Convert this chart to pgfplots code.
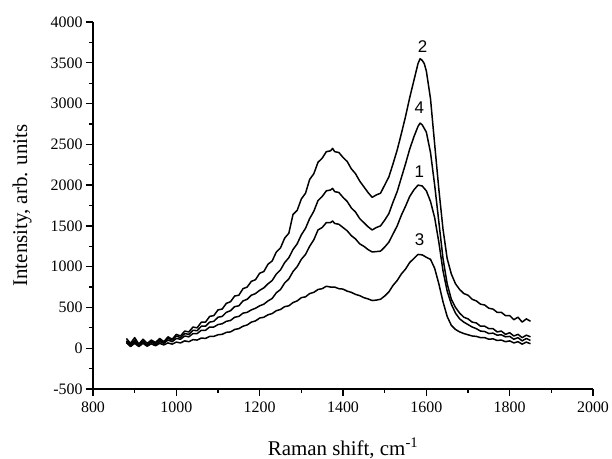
\documentclass[border=0pt]{standalone}
\usepackage{pgfplots}
\pgfplotsset{compat=1.18}
\usepackage{fontspec}
\setmainfont{Liberation Serif}
\newfontfamily\sansf{Liberation Sans}
\begin{document}
\begin{tikzpicture}
\useasboundingbox (0,0) rectangle (612bp,459bp);
\begin{axis}[
  at={(93bp,70bp)}, anchor=south west,
  width=500bp, height=367bp, scale only axis,
  xmin=800, xmax=2000, ymin=-500, ymax=4000,
  axis lines*=left,
  axis line style={line width=1.3pt},
  xtick={800,1000,...,2000},
  ytick={-500,0,...,4000},
  minor x tick num=1, minor y tick num=1,
  tick align=outside,
  major tick length=7bp, minor tick length=4bp,
  every tick/.style={line width=1.3pt, black},
  xticklabel={\fontsize{16}{16}\selectfont\pgfmathprintnumber[assume math mode=true,1000 sep={}]{\tick}},
  yticklabel={\fontsize{16}{16}\selectfont\pgfmathprintnumber[assume math mode=true,1000 sep={}]{\tick}},
  xticklabel style={yshift=-2bp},
  xlabel={Raman shift, cm\textsuperscript{-1}},
  ylabel={Intensity, arb. units},
  label style={font=\fontsize{21}{21}\selectfont},
  xlabel style={at={(axis description cs:0.5,0)}, anchor=base, yshift=-66bp},
  ylabel style={at={(axis description cs:0,0.5)}, anchor=center, yshift=71bp},
  clip=false,
]
% curve 2
\addplot[black, line width=1.5pt, line join=round] coordinates {
(880,120)(890,60)(900,130)(910,50)(920,110)(930,60)(940,100)(950,70)(960,120)(970,80)
(980,140)(990,110)(1000,170)(1010,150)(1020,210)(1030,200)(1040,260)(1050,250)(1060,320)(1070,320)
(1080,390)(1090,400)(1100,470)(1110,480)(1120,550)(1130,570)(1140,640)(1150,650)(1160,730)(1170,750)
(1180,820)(1190,840)(1200,920)(1210,940)(1220,1030)(1230,1070)(1240,1180)(1250,1230)(1260,1350)(1270,1410)
(1280,1640)(1290,1690)(1300,1830)(1310,1900)(1320,2070)(1330,2140)(1340,2280)(1350,2330)(1360,2410)(1370,2420)
(1375,2450)(1380,2410)(1390,2400)(1400,2340)(1410,2290)(1420,2200)(1430,2140)(1440,2050)(1450,1980)(1460,1910)
(1470,1850)(1480,1880)(1490,1900)(1500,2000)(1510,2100)(1520,2260)(1530,2430)(1540,2630)(1550,2840)(1560,3070)
(1570,3280)(1580,3490)(1585,3550)(1590,3530)(1595,3490)(1600,3400)(1610,3060)(1620,2500)(1630,1950)(1640,1460)
(1650,1100)(1660,910)(1670,790)(1680,720)(1690,670)(1700,650)(1710,600)(1720,580)(1730,540)(1740,530)
(1750,490)(1760,480)(1770,440)(1780,440)(1790,400)(1800,400)(1810,350)(1820,380)(1830,320)(1840,360)(1850,330)
};
% curve 4
\addplot[black, line width=1.5pt, line join=round] coordinates {
(880,90)(890,40)(900,100)(910,50)(920,90)(930,40)(940,90)(950,60)(960,100)(970,70)
(980,120)(990,100)(1000,150)(1010,130)(1020,180)(1030,170)(1040,220)(1050,215)(1060,270)(1070,270)
(1080,320)(1090,330)(1100,380)(1110,390)(1120,440)(1130,460)(1140,510)(1150,520)(1160,580)(1170,600)
(1180,650)(1190,670)(1200,710)(1210,740)(1220,790)(1230,830)(1240,910)(1250,960)(1260,1050)(1270,1110)
(1280,1210)(1290,1280)(1300,1390)(1310,1470)(1320,1590)(1330,1680)(1340,1810)(1350,1860)(1360,1930)(1370,1940)
(1375,1960)(1380,1920)(1390,1910)(1400,1850)(1410,1800)(1420,1720)(1430,1670)(1440,1590)(1450,1540)(1460,1490)
(1470,1450)(1480,1480)(1490,1500)(1500,1570)(1510,1650)(1520,1790)(1530,1920)(1540,2090)(1550,2260)(1560,2440)
(1570,2590)(1580,2720)(1585,2760)(1590,2740)(1600,2650)(1610,2400)(1620,2000)(1630,1550)(1640,1100)(1650,790)
(1660,600)(1670,500)(1680,430)(1690,380)(1700,360)(1710,320)(1720,310)(1730,270)(1740,270)(1750,240)
(1760,240)(1770,200)(1780,210)(1790,170)(1800,190)(1810,150)(1820,170)(1830,130)(1840,160)(1850,140)
};
% curve 1
\addplot[black, line width=1.5pt, line join=round] coordinates {
(880,70)(890,30)(900,80)(910,30)(920,70)(930,30)(940,80)(950,40)(960,80)(970,60)
(980,100)(990,80)(1000,120)(1010,110)(1020,150)(1030,140)(1040,180)(1050,180)(1060,220)(1070,220)
(1080,260)(1090,260)(1100,290)(1110,300)(1120,330)(1130,340)(1140,380)(1150,390)(1160,430)(1170,440)
(1180,470)(1190,490)(1200,520)(1210,540)(1220,580)(1230,610)(1240,680)(1250,720)(1260,800)(1270,850)
(1280,940)(1290,1000)(1300,1090)(1310,1150)(1320,1250)(1330,1330)(1340,1450)(1350,1480)(1360,1540)(1370,1540)
(1375,1560)(1380,1530)(1390,1520)(1400,1480)(1410,1440)(1420,1380)(1430,1340)(1440,1280)(1450,1250)(1460,1210)
(1470,1180)(1480,1185)(1490,1190)(1500,1240)(1510,1300)(1520,1400)(1530,1500)(1540,1630)(1550,1740)(1560,1860)
(1570,1940)(1580,2000)(1590,1990)(1600,1930)(1610,1800)(1620,1600)(1630,1300)(1640,950)(1650,700)(1660,540)
(1670,430)(1680,360)(1690,320)(1700,290)(1710,260)(1720,240)(1730,210)(1740,205)(1750,180)(1760,185)
(1770,160)(1780,165)(1790,140)(1800,145)(1810,110)(1820,130)(1830,90)(1840,120)(1850,95)
};
% curve 3
\addplot[black, line width=1.5pt, line join=round] coordinates {
(880,70)(890,20)(900,60)(910,20)(920,60)(930,25)(940,55)(950,30)(960,60)(970,40)
(980,65)(990,50)(1000,75)(1010,65)(1020,90)(1030,80)(1040,105)(1050,100)(1060,125)(1070,120)
(1080,145)(1090,145)(1100,165)(1110,170)(1120,195)(1130,200)(1140,230)(1150,240)(1160,270)(1170,285)
(1180,320)(1190,335)(1200,370)(1210,380)(1220,410)(1230,425)(1240,460)(1250,475)(1260,510)(1270,520)
(1280,560)(1290,580)(1300,620)(1310,630)(1320,670)(1330,685)(1340,720)(1350,730)(1360,760)(1370,750)
(1380,750)(1390,730)(1400,725)(1410,700)(1420,685)(1430,660)(1440,645)(1450,620)(1460,605)(1470,585)
(1480,590)(1490,600)(1500,640)(1510,690)(1520,770)(1530,830)(1540,910)(1550,970)(1560,1050)(1570,1100)
(1580,1150)(1590,1145)(1600,1115)(1610,1090)(1620,980)(1630,790)(1640,570)(1650,390)(1660,280)(1670,230)
(1680,200)(1690,180)(1700,165)(1710,150)(1720,145)(1730,130)(1740,130)(1750,110)(1760,115)(1770,95)
(1780,100)(1790,80)(1800,90)(1810,65)(1820,80)(1830,50)(1840,75)(1850,55)
};
\node[font=\sansf\fontsize{17}{17}\selectfont] at (axis cs:1591,3697) {2};
\node[font=\sansf\fontsize{17}{17}\selectfont] at (axis cs:1583,2954) {4};
\node[font=\sansf\fontsize{17}{17}\selectfont] at (axis cs:1583,2165) {1};
\node[font=\sansf\fontsize{17}{17}\selectfont] at (axis cs:1584,1327) {3};
\end{axis}
\end{tikzpicture}
\end{document}
